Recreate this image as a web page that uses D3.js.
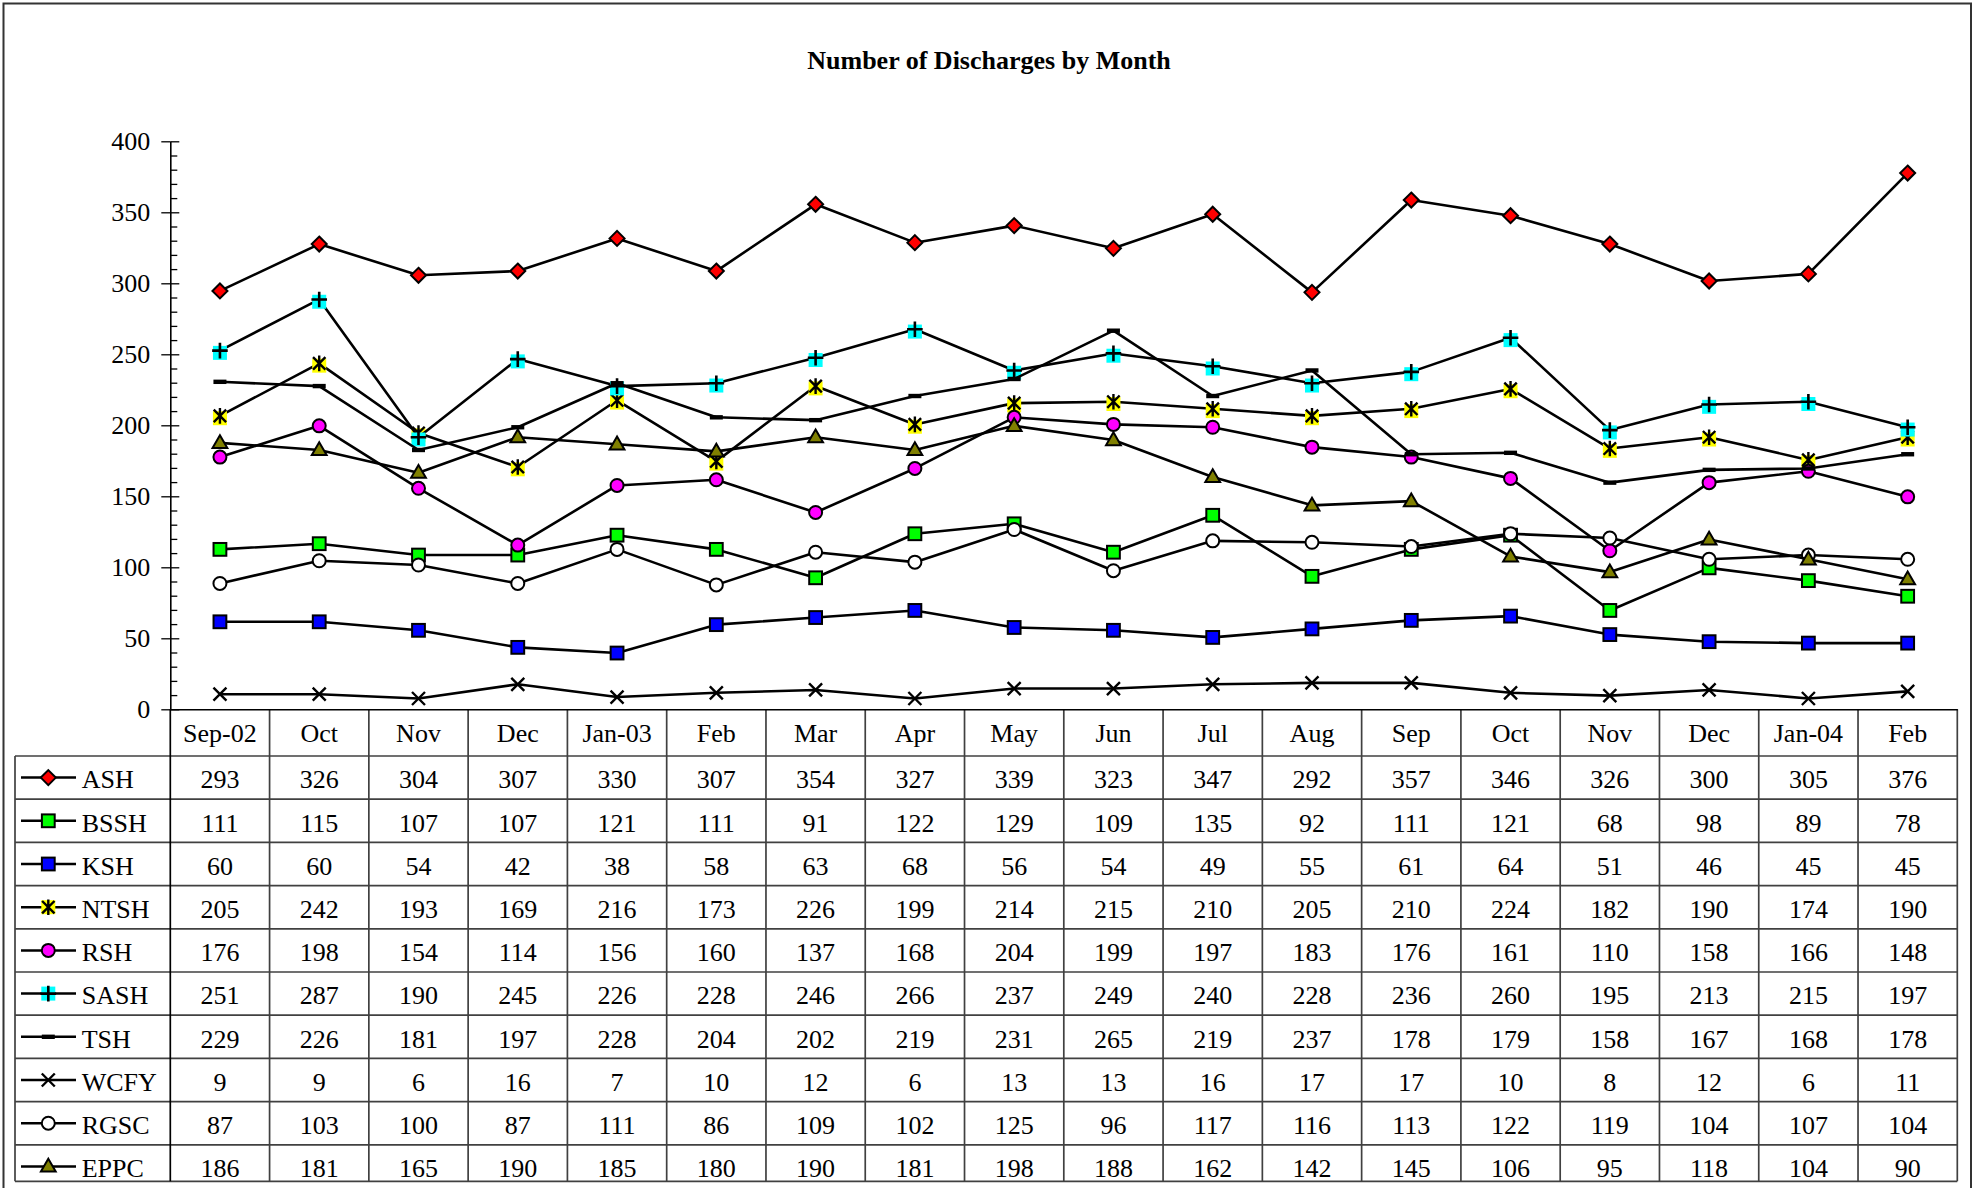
<!DOCTYPE html>
<html><head><meta charset="utf-8">
<script src="https://cdn.jsdelivr.net/npm/d3@7"></script>
<style>
body{margin:0;background:#fff;}
svg{display:block;}
text{font-family:"Liberation Serif","Times New Roman",serif;fill:#000;}
</style>
</head><body>
<svg id="c" width="1974" height="1188"></svg>
<script>
// ---- data ----
const categories = ["Sep-02","Oct","Nov","Dec","Jan-03","Feb","Mar","Apr","May","Jun","Jul","Aug","Sep","Oct","Nov","Dec","Jan-04","Feb"];
const ASH  = [293,326,304,307,330,307,354,327,339,323,347,292,357,346,326,300,305,376];
const BSSH = [111,115,107,107,121,111,91,122,129,109,135,92,111,121,68,98,89,78];
const KSH  = [60,60,54,42,38,58,63,68,56,54,49,55,61,64,51,46,45,45];
const NTSH = [205,242,193,169,216,173,226,199,214,215,210,205,210,224,182,190,174,190];
const RSH  = [176,198,154,114,156,160,137,168,204,199,197,183,176,161,110,158,166,148];
const SASH = [251,287,190,245,226,228,246,266,237,249,240,228,236,260,195,213,215,197];
const TSH  = [229,226,181,197,228,204,202,219,231,265,219,237,178,179,158,167,168,178];
const WCFY = [9,9,6,16,7,10,12,6,13,13,16,17,17,10,8,12,6,11];
const RGSC = [87,103,100,87,111,86,109,102,125,96,117,116,113,122,119,104,107,104];
const EPPC = [186,181,165,190,185,180,190,181,198,188,162,142,145,106,95,118,104,90];
const seriesNames = ["ASH","BSSH","KSH","NTSH","RSH","SASH","TSH","WCFY","RGSC","EPPC"];
const seriesValues = [ASH,BSSH,KSH,NTSH,RSH,SASH,TSH,WCFY,RGSC,EPPC];
const yTickValues = [0,50,100,150,200,250,300,350,400];
const titleText = "Number of Discharges by Month";

// ---- styles (kept separate from data) ----
const markerStyle = {
  ASH:  {type:"diamond",  fill:"#FF0000"},
  BSSH: {type:"square",   fill:"#00FF00"},
  KSH:  {type:"square",   fill:"#0000FF"},
  NTSH: {type:"asterisk", fill:"#FFFF00"},
  RSH:  {type:"circle",   fill:"#FF00FF"},
  SASH: {type:"plus",     fill:"#00FFFF"},
  TSH:  {type:"dash",     fill:"#000"},
  WCFY: {type:"x",        fill:"none"},
  RGSC: {type:"circle",   fill:"#FFFFFF"},
  EPPC: {type:"triangle", fill:"#808000"}
};

const SERIF = "'Liberation Serif','Times New Roman',serif";
const svg = d3.select("#c");
const plotLeft = 170.3, plotRight = 1957.3, yBase = 709.3, yTop = 141.3;
const tableTop = 756, rowH = 43.2, tableBottom = 1181.3, legendLeft = 15;
const lineShift = -2.3;
const FS = 26;

svg.append("rect").attr("x",0).attr("y",0).attr("width",1974).attr("height",1188).attr("fill","#fff");
svg.append("rect").attr("x",3.5).attr("y",3.5).attr("width",1967.5).attr("height",1200)
  .attr("fill","none").attr("stroke","#333").attr("stroke-width",2);

const x = d3.scaleBand().domain(d3.range(categories.length)).range([plotLeft, plotRight]);
const y = d3.scaleLinear().domain([0,400]).range([yBase, yTop]);
const rows = d3.scaleBand().domain(seriesNames).range([tableTop, tableTop + rowH*seriesNames.length]);

// title
svg.append("text").attr("x", 989).attr("y", 69.3).attr("text-anchor","middle")
  .attr("font-family",SERIF).attr("font-size",26).attr("font-weight","bold").text(titleText);

// y axis: major ticks outward with labels
const yAxisG = svg.append("g").attr("transform",`translate(${plotLeft},0)`)
  .call(d3.axisLeft(y).tickValues(yTickValues).tickSize(9).tickSizeOuter(0).tickPadding(11))
  .attr("font-family",SERIF).attr("font-size",FS);
yAxisG.selectAll("text").attr("fill","#000").attr("font-size",FS).attr("font-family",SERIF);
yAxisG.selectAll("line").attr("stroke","#000").attr("stroke-width",1.3);
yAxisG.select(".domain").attr("stroke","#000").attr("stroke-width",1.6);
// inside ticks: majors and minors
const minorVals = d3.range(0,401,10).filter(v => v % 50 !== 0);
svg.append("g").attr("transform",`translate(${plotLeft},0)`)
  .call(d3.axisRight(y).tickValues(minorVals).tickSize(7).tickSizeOuter(0).tickFormat(""))
  .call(g => { g.select(".domain").remove(); g.selectAll("line").attr("stroke","#000").attr("stroke-width",1.3); });
svg.append("g").attr("transform",`translate(${plotLeft},0)`)
  .call(d3.axisRight(y).tickValues(yTickValues).tickSize(9).tickSizeOuter(0).tickFormat(""))
  .call(g => { g.select(".domain").remove(); g.selectAll("line").attr("stroke","#000").attr("stroke-width",1.3); });

// table grid
const grid = svg.append("g").attr("stroke","#404040").attr("stroke-width",1.7).attr("fill","none");
const rowTops = seriesNames.map(n => rows(n));
rowTops.forEach(t => grid.append("line").attr("x1",legendLeft).attr("x2",plotRight).attr("y1",t).attr("y2",t));
grid.append("line").attr("x1",legendLeft).attr("x2",plotRight).attr("y1",tableBottom).attr("y2",tableBottom);
grid.append("line").attr("x1",legendLeft).attr("x2",legendLeft).attr("y1",tableTop).attr("y2",tableBottom);
const colEdges = categories.map((c,i) => x(i)).concat([plotRight]);
colEdges.forEach((cx,i) => grid.append("line").attr("x1",cx).attr("x2",cx)
  .attr("y1", yBase).attr("y2",tableBottom)
  .attr("stroke", i===0 ? "#000" : "#404040"));

// x axis (category header)
const xAxisG = svg.append("g").attr("transform",`translate(0,${yBase})`)
  .call(d3.axisBottom(x).tickSize(0).tickSizeOuter(0).tickPadding(14).tickFormat(i => categories[i]))
  .attr("font-family",SERIF).attr("font-size",FS);
xAxisG.select(".domain").attr("stroke","#000").attr("stroke-width",1.6);
xAxisG.selectAll("text").attr("fill","#000").attr("font-size",FS).attr("font-family",SERIF);

// table values (clipped to visible area)
svg.append("clipPath").attr("id","tclip").append("rect")
  .attr("x",0).attr("y",tableTop).attr("width",1974).attr("height",tableBottom - tableTop);
const tbl = svg.append("g").attr("clip-path","url(#tclip)")
  .attr("font-family",SERIF).attr("font-size",FS);
seriesNames.forEach((name, si) => {
  const vals = seriesValues[si];
  const top = rows(name);
  tbl.selectAll(null).data(vals).enter().append("text")
    .attr("x",(d,i) => x(i) + x.bandwidth()/2)
    .attr("y", top + 32.4)
    .attr("text-anchor","middle").text(d => d);
  const cy = top + rowH/2;
  tbl.append("line").attr("x1",21).attr("x2",76).attr("y1",cy).attr("y2",cy)
    .attr("stroke","#000").attr("stroke-width",2.5);
  drawMarker(tbl, markerStyle[name], 48.3, cy, 0);
  tbl.append("text").attr("x",81.7).attr("y", top + 32.4).text(name);
});

// series lines and markers
const plot = svg.append("g");
const line = d3.line().x((d,i) => x(i) + x.bandwidth()/2).y(d => y(d) + lineShift);
seriesNames.forEach((name, si) => {
  const vals = seriesValues[si];
  const g = plot.append("g");
  g.append("path").datum(vals).attr("d", line).attr("fill","none")
    .attr("stroke","#000").attr("stroke-width",2.6).attr("stroke-linejoin","round");
  vals.forEach((v,i) => drawMarker(g, markerStyle[name], x(i) + x.bandwidth()/2, y(v) + lineShift, -lineShift));
});

function drawMarker(g, st, cx, cy, bgShift) {
  const sw = 2;
  switch (st.type) {
    case "diamond": {
      const r = 7.5;
      g.append("path").attr("d",`M${cx},${cy-r}L${cx+r},${cy}L${cx},${cy+r}L${cx-r},${cy}Z`)
        .attr("fill",st.fill).attr("stroke","#000").attr("stroke-width",sw);
      break; }
    case "square": {
      const s = 12.8;
      g.append("rect").attr("x",cx-s/2).attr("y",cy-s/2).attr("width",s).attr("height",s)
        .attr("fill",st.fill).attr("stroke","#000").attr("stroke-width",sw);
      break; }
    case "circle": {
      g.append("circle").attr("cx",cx).attr("cy",cy).attr("r",6.5)
        .attr("fill",st.fill).attr("stroke","#000").attr("stroke-width",sw);
      break; }
    case "triangle": {
      const w = 7.4, h = 12.8;
      g.append("path").attr("d",`M${cx},${cy-h*0.6}L${cx+w},${cy+h*0.4}L${cx-w},${cy+h*0.4}Z`)
        .attr("fill",st.fill).attr("stroke","#000").attr("stroke-width",sw);
      break; }
    case "dash": {
      g.append("rect").attr("x",cx-6.5).attr("y",cy-2.2).attr("width",13).attr("height",4.4).attr("fill","#000");
      break; }
    case "x": {
      const r = 6.5;
      g.append("path").attr("d",`M${cx-r},${cy-r}L${cx+r},${cy+r}M${cx-r},${cy+r}L${cx+r},${cy-r}`)
        .attr("stroke","#000").attr("stroke-width",2.4).attr("fill","none");
      break; }
    case "asterisk": {
      const s = 14;
      g.append("rect").attr("x",cx-s/2).attr("y",cy+bgShift-s/2).attr("width",s).attr("height",s).attr("fill",st.fill);
      const r = 6.2, v = 7.8;
      g.append("path").attr("d",`M${cx-r},${cy-r}L${cx+r},${cy+r}M${cx-r},${cy+r}L${cx+r},${cy-r}M${cx},${cy-v}L${cx},${cy+v}`)
        .attr("stroke","#000").attr("stroke-width",2.4).attr("fill","none");
      break; }
    case "plus": {
      const s = 14;
      g.append("rect").attr("x",cx-s/2).attr("y",cy+bgShift-s/2).attr("width",s).attr("height",s).attr("fill",st.fill);
      const r = 7.8;
      g.append("path").attr("d",`M${cx-r},${cy}L${cx+r},${cy}M${cx},${cy-r}L${cx},${cy+r}`)
        .attr("stroke","#000").attr("stroke-width",2.6).attr("fill","none");
      break; }
  }
}
</script>
</body></html>
